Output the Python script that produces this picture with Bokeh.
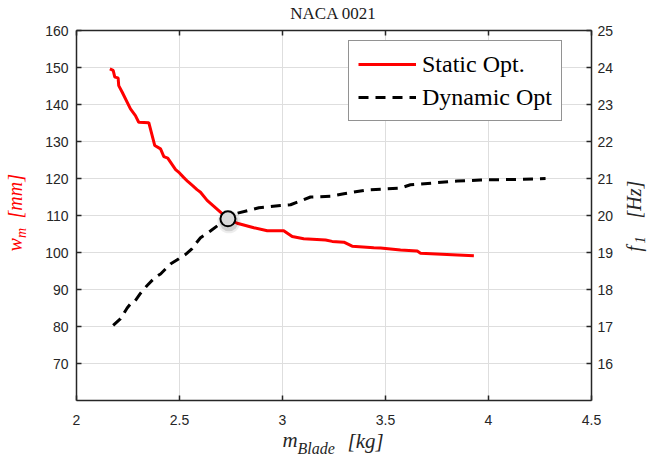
import math
from bokeh.plotting import figure
from bokeh.models import (Range1d, LinearAxis, FixedTicker, Label, Legend, LegendItem)
from bokeh.embed import file_html
from bokeh.resources import INLINE

# ---- data ----
static_mass = [2.162, 2.178, 2.186, 2.202, 2.205, 2.222, 2.262, 2.286, 2.302, 2.351,
               2.380, 2.408, 2.424, 2.443, 2.481, 2.500, 2.520, 2.540, 2.565, 2.585,
               2.602, 2.634, 2.707, 2.735, 2.780, 2.861, 2.926, 3.006, 3.047, 3.103,
               3.209, 3.241, 3.298, 3.338, 3.443, 3.476, 3.573, 3.654, 3.670, 3.824, 3.929]
static_wm = [149.6, 149.2, 147.4, 147.2, 145.1, 143.3, 138.8, 137.0, 135.2, 135.1,
             128.9, 128.0, 125.9, 125.5, 122.4, 121.5, 120.3, 119.2, 118.0, 117.0,
             116.3, 114.1, 110.5, 109.1, 107.9, 106.7, 105.9, 105.9, 104.3, 103.7,
             103.4, 103.0, 102.8, 101.7, 101.3, 101.2, 100.7, 100.4, 99.8, 99.4, 99.1]

dynamic_mass = [2.178, 2.214, 2.246, 2.262, 2.278, 2.311, 2.343, 2.380, 2.408, 2.456,
                2.497, 2.530, 2.560, 2.580, 2.602, 2.650, 2.707, 2.735, 2.780, 2.885,
                2.990, 3.039, 3.096, 3.136, 3.233, 3.298, 3.411, 3.508, 3.573, 3.621,
                3.734, 3.848, 3.961, 4.074, 4.171, 4.277]
dynamic_f1 = [17.03, 17.21, 17.50, 17.61, 17.64, 17.90, 18.11, 18.32, 18.42, 18.69,
              18.83, 18.95, 19.10, 19.25, 19.40, 19.58, 19.82, 19.91, 20.06, 20.21,
              20.27, 20.29, 20.41, 20.50, 20.52, 20.59, 20.69, 20.72, 20.74, 20.83,
              20.88, 20.93, 20.96, 20.97, 20.98, 21.00]

opt_mass = [2.735]
opt_wm = [109.1]

x_ticks = [2, 2.5, 3, 3.5, 4, 4.5]
wm_ticks = [70, 80, 90, 100, 110, 120, 130, 140, 150, 160]
f1_ticks = [16, 17, 18, 19, 20, 21, 22, 23, 24, 25]

# axis limits of the plotting box
X_LIM = (2, 4.5)
WM_LIM = (60, 160)
F1_LIM = (15, 25)

AX = "#262626"
TICK_FONT = "Liberation Sans"
SERIF = "Liberation Serif"

# ---- layout: the frame spans the whole canvas; the box sits at px 76..591 x 30..400
W, H = 651, 460
BOX_L, BOX_R, BOX_T, BOX_B = 76, 591, 30, 400
sx = (BOX_R - BOX_L) / (X_LIM[1] - X_LIM[0])
sy = (BOX_B - BOX_T) / (WM_LIM[1] - WM_LIM[0])
sf = (BOX_B - BOX_T) / (F1_LIM[1] - F1_LIM[0])
x_range = Range1d(X_LIM[0] - BOX_L / sx, X_LIM[1] + (W - BOX_R) / sx)
y_range = Range1d(WM_LIM[0] - (H - BOX_B) / sy, WM_LIM[1] + BOX_T / sy)
f_range = Range1d(F1_LIM[0] - (H - BOX_B) / sf, F1_LIM[1] + BOX_T / sf)

p = figure(width=W, height=H, output_backend="svg", toolbar_location=None, title=None,
           x_range=x_range, y_range=y_range, x_axis_type=None, y_axis_type=None,
           min_border=0)
p.extra_y_ranges = {"f": f_range}
p.background_fill_color = "white"
p.border_fill_color = "white"
p.outline_line_color = None
p.xgrid.visible = False
p.ygrid.visible = False

# grid lines (only inside the box)
p.segment(x0=x_ticks, y0=[WM_LIM[0]] * len(x_ticks), x1=x_ticks, y1=[WM_LIM[1]] * len(x_ticks),
          line_color="#dedede", line_width=1)
p.segment(x0=[X_LIM[0]] * len(wm_ticks), y0=wm_ticks, x1=[X_LIM[1]] * len(wm_ticks), y1=wm_ticks,
          line_color="#dedede", line_width=1)


def style_axis(ax, show_labels=True, standoff=8):
    ax.axis_line_color = AX
    ax.axis_line_width = 1.5
    ax.major_tick_line_color = AX
    ax.major_tick_line_width = 1.5
    ax.major_tick_in = 5
    ax.major_tick_out = 0
    ax.minor_tick_line_color = None
    ax.major_label_text_font = TICK_FONT
    ax.major_label_text_font_size = "14px"
    ax.major_label_text_color = AX if show_labels else None
    ax.major_label_standoff = standoff


xb = LinearAxis(ticker=FixedTicker(ticks=x_ticks), fixed_location=WM_LIM[0], bounds=X_LIM)
style_axis(xb, standoff=14)
p.add_layout(xb, "below")
xt = LinearAxis(ticker=FixedTicker(ticks=x_ticks), fixed_location=WM_LIM[1], bounds=X_LIM)
style_axis(xt, show_labels=False)
p.add_layout(xt, "above")

yl = LinearAxis(ticker=FixedTicker(ticks=wm_ticks), fixed_location=X_LIM[0], bounds=WM_LIM)
style_axis(yl, standoff=8)
p.add_layout(yl, "left")
yr = LinearAxis(y_range_name="f", ticker=FixedTicker(ticks=f1_ticks),
                fixed_location=X_LIM[1], bounds=F1_LIM)
style_axis(yr, standoff=6)
p.add_layout(yr, "right")

r_static = p.line(static_mass, static_wm, line_color="#ff0000", line_width=3)
r_dyn = p.line(dynamic_mass, dynamic_f1, y_range_name="f", line_color="black",
               line_width=3, line_dash="10 7")

# optimum marker with soft shadow (shadow drawn slightly below-right)
shadow_x = [m + 0.005 for m in opt_mass]
shadow_y = [w - 0.8 for w in opt_wm]
p.scatter(shadow_x, shadow_y, size=23, fill_color="black", fill_alpha=0.07, line_color=None)
p.scatter(shadow_x, shadow_y, size=19, fill_color="black", fill_alpha=0.12, line_color=None)
p.scatter(opt_mass, opt_wm, size=15, fill_color="#d9d9d9", line_color="black", line_width=2)

legend = Legend(items=[LegendItem(label="Static Opt.", renderers=[r_static]),
                       LegendItem(label="Dynamic Opt", renderers=[r_dyn])],
                location=(348, H - 121))
legend.label_text_font = SERIF
legend.label_text_font_size = "24px"
legend.label_text_color = "black"
legend.glyph_width = 58
legend.glyph_height = 28
legend.label_height = 28
legend.label_standoff = 6
legend.padding = 9
legend.spacing = 5
legend.margin = 0
legend.border_line_color = AX
legend.border_line_width = 1.5
legend.background_fill_color = "white"
legend.background_fill_alpha = 1
p.add_layout(legend, "center")


def lab(cx, cy, text, size, color, angle=0.0, style="italic", align="left"):
    # cx, cy: canvas pixels (from top-left) of the wanted text baseline start;
    # the rendered baseline sits ~0.42 em lower than the anchor, so compensate.
    shift = 0.42 * size
    if angle:
        cx -= shift
    else:
        cy -= shift
    p.add_layout(Label(x=cx, y=H - cy, x_units="screen", y_units="screen", text=text,
                       text_font=SERIF, text_font_size=f"{size}px", text_font_style=style,
                       text_color=color, angle=angle, text_align=align,
                       text_baseline="alphabetic"))


# title
lab(333, 20, "NACA 0021", 17, "#1a1a1a", style="normal", align="center")

# x-axis label: m_Blade [kg]
lab(282, 448, "m", 21, AX)
lab(297, 455, "Blade", 16, AX)
lab(347, 449, "[kg]", 21, AX)

# left label: w_m [mm] in red
RED = "#ff0000"
lab(23, 251, "w", 20, RED, angle=math.pi / 2)
lab(27, 237.5, "m", 14, RED, angle=math.pi / 2)
lab(23, 218, "[mm]", 20, RED, angle=math.pi / 2)

# right label: f_1 [Hz]
lab(642, 251, "f", 20, AX, angle=math.pi / 2)
lab(645, 243, "1", 14, AX, angle=math.pi / 2)
lab(642, 218, "[Hz]", 20, AX, angle=math.pi / 2)

open("out.html", "w").write(file_html(p, INLINE))
